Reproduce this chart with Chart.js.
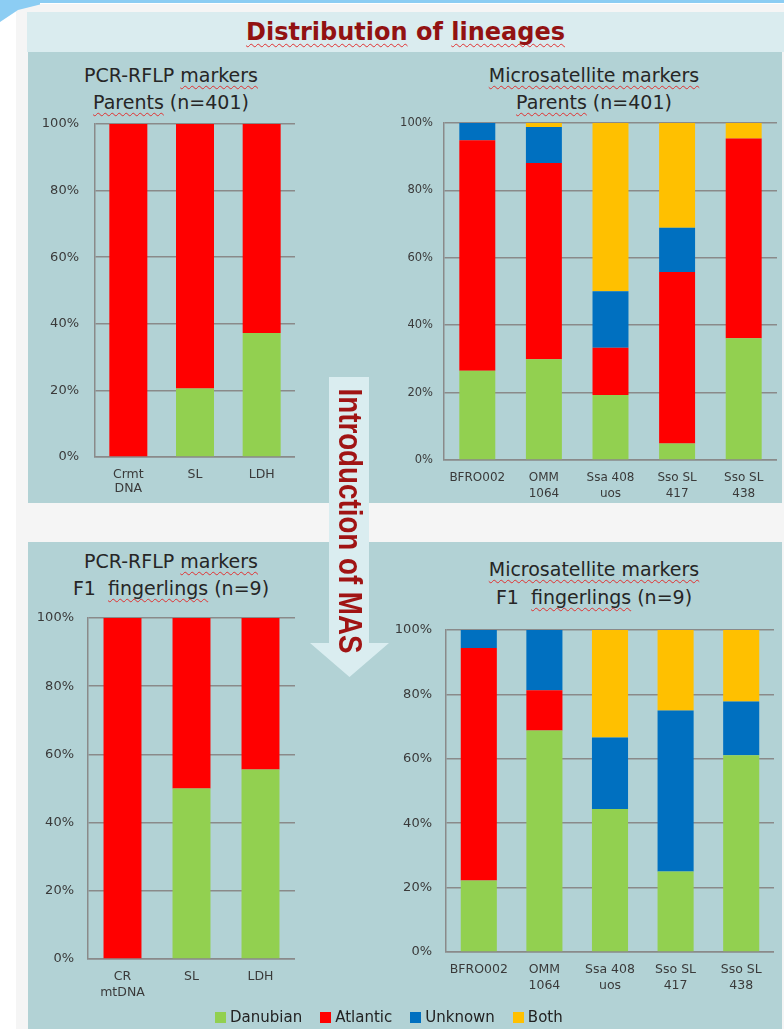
<!DOCTYPE html>
<html>
<head>
<meta charset="utf-8">
<script src="https://cdn.jsdelivr.net/npm/chart.js@4.4.1/dist/chart.umd.min.js"></script>
<style>
  html, body { margin:0; padding:0; }
  body { width:784px; height:1029px; position:relative; overflow:hidden; background:#ffffff; font-family:"DejaVu Sans", sans-serif; }
  .abs { position:absolute; }
  .bgGrey { left:16px; top:4px; width:768px; height:1025px; background:#f5f5f5; }
  .topLine { left:14px; top:0; width:770px; height:3px; background:#8ccdf3; }
  .swoosh { left:0; top:0; width:40px; height:22px; background:#8ccdf3; clip-path:polygon(0 0,100% 0,100% 20%,45% 45%,0 100%); }
  .titleBox { left:27px; top:12px; width:757px; height:40px; background:#daecef; }
  .panel { background:#b2d2d5; }
  .mainTitle { left:27px; top:12px; width:757px; height:40px; line-height:40px; text-align:center; font-weight:bold; font-size:24px; color:#921212; }
  .wavy { text-decoration:underline wavy #e03030; text-decoration-thickness:1px; text-underline-offset:3px; text-decoration-skip-ink:none; }
  .ctitle { width:320px; text-align:center; font-size:19px; color:#262626; line-height:24px; white-space:nowrap; }
  canvas { position:absolute; }
  #legend { left:0; width:784px; top:1008px; display:flex; justify-content:flex-start; gap:18px; font-size:15px; color:#222; }
  .lgItem { display:flex; align-items:center; }
  .lgBox { width:11px; height:11px; margin-right:4px; }
</style>
</head>
<body>
<div class="abs bgGrey"></div>
<div class="abs topLine"></div>
<div class="abs swoosh"></div>
<div class="abs titleBox"></div>
<div class="abs panel" style="left:28px;top:52px;width:754px;height:451px;"></div>
<div class="abs panel" style="left:28px;top:542px;width:754px;height:487px;"></div>
<div class="abs mainTitle"><span class="wavy">Distribution</span> of <span class="wavy">lineages</span></div>

<div class="abs ctitle" style="left:11px;top:63px;">PCR-RFLP <span class="wavy">markers</span></div>
<div class="abs ctitle" style="left:11px;top:90px;"><span class="wavy">Parents</span> (n=401)</div>
<div class="abs ctitle" style="left:434px;top:63px;"><span class="wavy">Microsatellite markers</span></div>
<div class="abs ctitle" style="left:434px;top:90px;"><span class="wavy">Parents</span> (n=401)</div>
<div class="abs ctitle" style="left:11px;top:549px;">PCR-RFLP <span class="wavy">markers</span></div>
<div class="abs ctitle" style="left:11px;top:576px;">F1 &nbsp;<span class="wavy">fingerlings</span> (n=9)</div>
<div class="abs ctitle" style="left:434px;top:557px;"><span class="wavy">Microsatellite markers</span></div>
<div class="abs ctitle" style="left:434px;top:585px;">F1 &nbsp;<span class="wavy">fingerlings</span> (n=9)</div>

<canvas id="cTL"></canvas>
<canvas id="cTR"></canvas>
<canvas id="cBL"></canvas>
<canvas id="cBR"></canvas>

<svg class="abs" style="left:0;top:0;" width="784" height="1029">
  <polygon points="329,377 369,377 369,643 389,643 349.5,677 310,643 329,643" fill="#daedf0"/>
</svg>
<div id="arrowText" class="abs" style="left:349.5px;top:520.5px;white-space:nowrap;font-family:'Liberation Sans',Arial,sans-serif;font-weight:bold;font-size:33px;line-height:34px;color:#a01414;">Introduction of MAS</div>

<div id="legend" class="abs"></div>

<script>
// ---- Data ----
const seriesNames = ['Danubian', 'Atlantic', 'Unknown', 'Both'];
const seriesColors = ['#92d050', '#ff0000', '#0070c0', '#ffc000'];

const pcrParentsCategories = [['Crmt', 'DNA'], 'SL', 'LDH'];
const pcrF1Categories = [['CR', 'mtDNA'], 'SL', 'LDH'];
const msatCategories = ['BFRO002', ['OMM', '1064'], ['Ssa 408', 'uos'], ['Sso SL', '417'], ['Sso SL', '438']];

const pcrParentsDanubian = [0, 20.6, 37.2];
const pcrParentsAtlantic = [100, 79.4, 62.8];

const msatParentsDanubian = [26.5, 29.9, 19.3, 4.9, 36.1];
const msatParentsAtlantic = [68.4, 58.2, 14.0, 50.9, 59.3];
const msatParentsUnknown  = [5.1, 10.7, 16.8, 13.1, 0];
const msatParentsBoth     = [0, 1.2, 49.9, 31.1, 4.6];

const pcrF1Danubian = [0, 50, 55.6];
const pcrF1Atlantic = [100, 50, 44.4];

const msatF1Danubian = [22.2, 68.8, 44.4, 25.0, 61.1];
const msatF1Atlantic = [72.2, 12.5, 0, 0, 0];
const msatF1Unknown  = [5.6, 18.7, 22.2, 50.0, 16.7];
const msatF1Both     = [0, 0, 33.4, 25.0, 22.2];

const yTickValues = [0, 20, 40, 60, 80, 100];
const yTickSuffix = '%';

// ---- Arrow text sizing ----
(function(){
  const el = document.getElementById('arrowText');
  const w = el.getBoundingClientRect().width;
  const k = 265 / w;
  el.style.transform = 'translate(-50%,-50%) rotate(90deg) scaleX(' + k + ')';
})();

// ---- Legend ----
(function(){
  const lg = document.getElementById('legend');
  lg.style.paddingLeft = '215px';
  seriesNames.forEach((n, i) => {
    const it = document.createElement('div'); it.className = 'lgItem';
    const b = document.createElement('div'); b.className = 'lgBox'; b.style.background = seriesColors[i];
    const t = document.createElement('span'); t.textContent = n;
    it.appendChild(b); it.appendChild(t); lg.appendChild(it);
  });
})();

function makeChart(id, labels, seriesData, g) {
  const padTop = 32, xh = 48;
  const cv = document.getElementById(id);
  const w = g.yw + (g.R - g.L);
  const h = padTop + (g.B - g.T) + xh;
  cv.width = w; cv.height = h;
  cv.style.width = w + 'px'; cv.style.height = h + 'px';
  cv.style.left = (g.L - g.yw) + 'px'; cv.style.top = (g.T - padTop) + 'px';
  const datasets = seriesData.map((d, i) => ({
    label: seriesNames[i], data: d, backgroundColor: seriesColors[i], borderWidth: 0,
    barPercentage: g.barPct, categoryPercentage: 1
  }));
  return new Chart(cv, {
    type: 'bar',
    data: { labels: labels, datasets: datasets },
    options: {
      responsive: false, animation: false, devicePixelRatio: 1,
      layout: { padding: { top: padTop, left: 0, right: 0, bottom: 0 } },
      plugins: { legend: { display: false }, tooltip: { enabled: false }, title: { display: false } },
      scales: {
        x: {
          stacked: true,
          grid: { display: false, drawTicks: false },
          border: { display: true, color: '#8a8a8a', width: 1.5 },
          ticks: { color: '#3a3a3a', padding: g.xPad, autoSkip: false, maxRotation: 0,
                   font: { family: 'DejaVu Sans', size: g.xFont, lineHeight: g.xLh + 'px' } },
          afterFit: s => { s.height = xh; }
        },
        y: {
          stacked: true, min: 0, max: 100,
          afterBuildTicks: s => { s.ticks = yTickValues.map(v => ({ value: v })); },
          grid: { color: '#8a8a8a', lineWidth: 1.5, drawTicks: false },
          border: { display: true, color: '#8a8a8a', width: 1.5 },
          ticks: { color: '#3a3a3a', padding: g.yPad, callback: v => v + yTickSuffix,
                   font: { family: 'DejaVu Sans', size: g.yFont } },
          afterFit: s => { s.width = g.yw; }
        }
      }
    }
  });
}

makeChart('cTL', pcrParentsCategories, [pcrParentsDanubian, pcrParentsAtlantic],
  { L: 95, T: 124, R: 295, B: 457, yw: 60, yPad: 16, yFont: 13, xFont: 12.5, xLh: 14, xPad: 11, barPct: 0.57 });
makeChart('cTR', msatCategories, [msatParentsDanubian, msatParentsAtlantic, msatParentsUnknown, msatParentsBoth],
  { L: 444, T: 123, R: 777, B: 460, yw: 56, yPad: 11, yFont: 11.5, xFont: 12, xLh: 16, xPad: 10, barPct: 0.54 });
makeChart('cBL', pcrF1Categories, [pcrF1Danubian, pcrF1Atlantic],
  { L: 88, T: 618, R: 295, B: 959, yw: 56, yPad: 14, yFont: 13, xFont: 12.5, xLh: 16.5, xPad: 9, barPct: 0.55 });
makeChart('cBR', msatCategories, [msatF1Danubian, msatF1Atlantic, msatF1Unknown, msatF1Both],
  { L: 446, T: 630, R: 774, B: 952, yw: 58, yPad: 14, yFont: 13, xFont: 12.5, xLh: 16.5, xPad: 9, barPct: 0.55 });
</script>
</body>
</html>
